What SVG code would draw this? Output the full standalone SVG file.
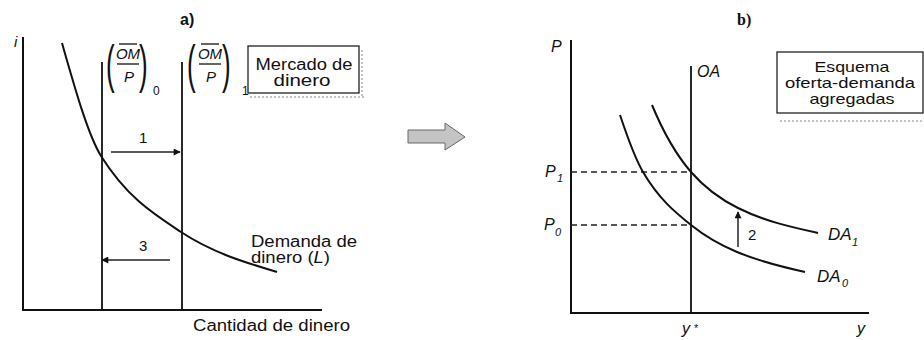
<svg xmlns="http://www.w3.org/2000/svg" width="924" height="340" viewBox="0 0 924 340">
<defs>
<marker id="ah" viewBox="0 0 10 10" refX="9" refY="5" markerWidth="8" markerHeight="7" markerUnits="userSpaceOnUse" orient="auto">
<path d="M0,0 L10,5 L0,10 z" fill="#111"/>
</marker>
</defs>
<style>
.ax{stroke:#111;stroke-width:2;fill:none}
.ln{stroke:#111;stroke-width:1.8;fill:none}
.cv{stroke:#111;stroke-width:2;fill:none}
.dash{stroke:#222;stroke-width:1.3;stroke-dasharray:6 4;fill:none}
.arr{stroke:#222;stroke-width:1.5;fill:none;marker-end:url(#ah)}
.box{stroke:#222;stroke-width:1.3;fill:#fff}
.shadow{stroke:#888;stroke-width:1;stroke-dasharray:2 2;fill:none}
.t{font-family:"Liberation Sans",Arial,sans-serif;fill:#111}
.it{font-family:"Liberation Sans",Arial,sans-serif;font-style:italic;fill:#111}
.b{font-family:"Liberation Sans",Arial,sans-serif;font-weight:bold;fill:#111}
.bs{font-family:"Liberation Serif","Times New Roman",serif;font-weight:bold;fill:#111}
</style>

<!-- Panel a -->
<g id="panel-a">
  <text class="b" x="180" y="25" font-size="16">a)</text>
  <g id="axes-a">
    <path class="ax" d="M23,37 V310 H322"/>
    <text class="it" x="14" y="47" font-size="15">i</text>
    <text class="t" x="193" y="331" font-size="16" textLength="157" lengthAdjust="spacingAndGlyphs">Cantidad de dinero</text>
  </g>
  <g id="oferta-0">
    <path class="ln" d="M102,62 V310"/>
    <text class="t" transform="translate(106,82) scale(0.5,1)" font-size="52">(</text>
    <text class="it" x="128" y="59" font-size="15" text-anchor="middle">OM</text>
    <path d="M119,44 H137" stroke="#111" stroke-width="1.3"/>
    <path d="M117,64 H139" stroke="#111" stroke-width="1.3"/>
    <text class="it" x="129" y="82" font-size="15" text-anchor="middle">P</text>
    <text class="t" transform="translate(139,82) scale(0.5,1)" font-size="52">)</text>
    <text class="t" x="153" y="95" font-size="12">0</text>
  </g>
  <g id="oferta-1">
    <path class="ln" d="M182,62 V310"/>
    <text class="t" transform="translate(187,82) scale(0.5,1)" font-size="52">(</text>
    <text class="it" x="210" y="59" font-size="15" text-anchor="middle">OM</text>
    <path d="M201,44 H219" stroke="#111" stroke-width="1.3"/>
    <path d="M199,64 H221" stroke="#111" stroke-width="1.3"/>
    <text class="it" x="211" y="82" font-size="15" text-anchor="middle">P</text>
    <text class="t" transform="translate(222,82) scale(0.5,1)" font-size="52">)</text>
    <text class="t" x="242" y="95" font-size="12">1</text>
  </g>
  <g id="demanda">
    <path class="cv" d="M62,43 C75,88.5 88,135 101,156 C127.7,198.4 154.3,214.4 181,232 C213,253 245,262.4 277,272"/>
    <text class="t" x="251" y="247" font-size="16" textLength="106" lengthAdjust="spacingAndGlyphs">Demanda de</text>
    <text class="t" x="251" y="263" font-size="16" textLength="79" lengthAdjust="spacingAndGlyphs">dinero (<tspan font-style="italic">L</tspan>)</text>
  </g>
  <g id="mercado-box">
    <path class="shadow" d="M250,97 H364 M362,50 V97"/>
    <rect class="box" x="248" y="46" width="111" height="47"/>
    <text class="t" x="304" y="70" font-size="16" text-anchor="middle" textLength="97" lengthAdjust="spacingAndGlyphs">Mercado de</text>
    <text class="t" x="302" y="86" font-size="16" text-anchor="middle" textLength="57" lengthAdjust="spacingAndGlyphs">dinero</text>
  </g>
</g>

<!-- connectors / shifts -->
<g id="connectors">
  <path class="arr" d="M111,152 H180"/>
  <text class="t" x="139" y="143" font-size="15">1</text>
  <path class="arr" d="M170,260 H102"/>
  <text class="t" x="139" y="251" font-size="15">3</text>
  <path class="arr" d="M738,247 V212"/>
  <text class="t" x="748" y="240" font-size="15">2</text>
  <polygon id="transicion" points="408,130 445,130 445,123 465,137 445,150 445,143 408,143" fill="#c4c4c4" stroke="#666" stroke-width="1"/>
</g>

<!-- Panel b -->
<g id="panel-b">
  <text class="bs" x="737" y="25" font-size="16">b)</text>
  <g id="axes-b">
    <path class="ax" d="M571,40 V313 H869"/>
    <text class="it" x="551" y="52" font-size="16">P</text>
    <text class="it" x="857" y="334" font-size="16">y</text>
  </g>
  <g id="oa">
    <path class="ln" d="M691,66 V313"/>
    <text class="it" x="697" y="77" font-size="16">OA</text>
    <text class="it" x="682" y="334" font-size="16">y</text>
    <text class="t" x="694" y="332" font-size="11">*</text>
  </g>
  <g id="precios">
    <path class="dash" d="M571,172 H691 M571,225 H691"/>
    <text class="it" x="545" y="177" font-size="16">P</text>
    <text class="it" x="557" y="182" font-size="11">1</text>
    <text class="it" x="544" y="230" font-size="16">P</text>
    <text class="it" x="555" y="236" font-size="11">0</text>
  </g>
  <g id="da0">
    <path class="cv" d="M620,115 C627.7,138 635.3,159 643,172 C659,199.2 675,212.2 691,225 C706.3,237.3 721.7,245.6 737,252 C759.7,261.5 782.3,267 805,272"/>
    <text class="it" x="817" y="282" font-size="17">DA</text>
    <text class="it" x="842" y="287" font-size="11">0</text>
  </g>
  <g id="da1">
    <path class="cv" d="M652,105 C665,136.2 678,157 691,172 C706.7,190 722.3,200.2 738,208 C764.7,221.3 791.3,227.1 818,233"/>
    <text class="it" x="828" y="240" font-size="17">DA</text>
    <text class="it" x="852" y="246" font-size="11">1</text>
  </g>
  <g id="esquema-box">
    <path class="shadow" d="M780,121 H924"/>
    <rect class="box" x="777" y="52" width="146" height="61"/>
    <text class="t" x="852" y="72" font-size="15" text-anchor="middle" textLength="75" lengthAdjust="spacingAndGlyphs">Esquema</text>
    <text class="t" x="850" y="88" font-size="15" text-anchor="middle" textLength="130" lengthAdjust="spacingAndGlyphs">oferta-demanda</text>
    <text class="t" x="852" y="104" font-size="15" text-anchor="middle" textLength="85" lengthAdjust="spacingAndGlyphs">agregadas</text>
  </g>
</g>
</svg>
